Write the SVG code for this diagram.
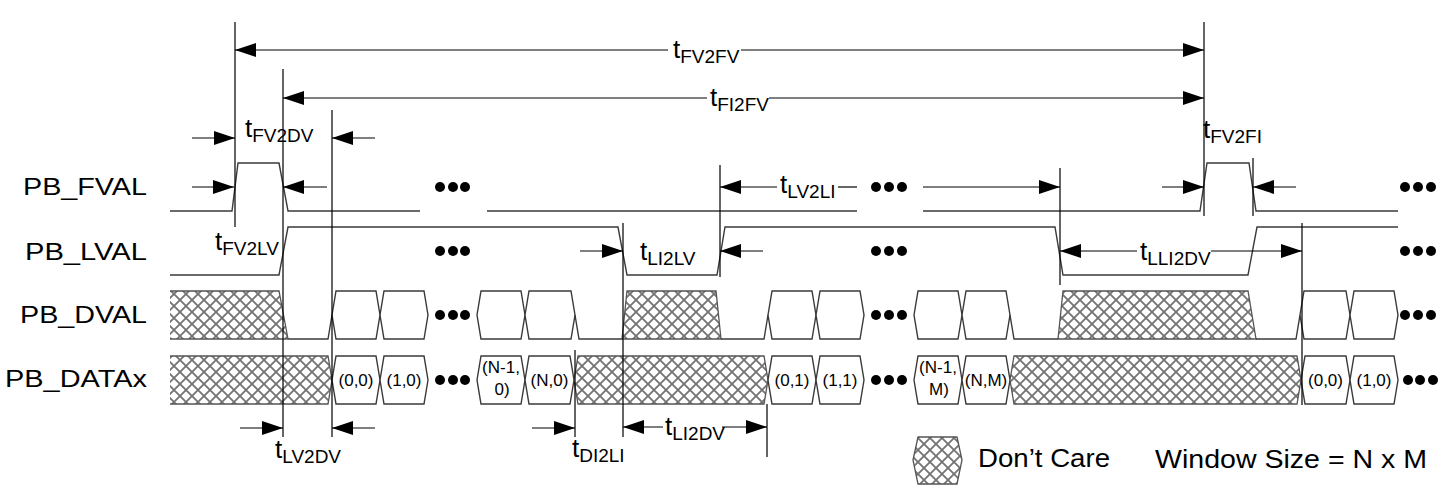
<svg xmlns="http://www.w3.org/2000/svg" width="1455" height="491" viewBox="0 0 1455 491">
<style>
text{font-family:"Liberation Sans",Arial,sans-serif;fill:#000}
.t{font-size:26px}
.s{font-size:19px}
.lbl{font-size:24px;text-anchor:end}
.d{font-size:17px;text-anchor:middle}
.leg{font-size:25px}
.w{fill:none;stroke:#3a3a3a;stroke-width:1.4;stroke-linejoin:miter}
.hx{fill:#fff;stroke:#3a3a3a;stroke-width:1.4}
.hf{fill:url(#hatch);stroke:none}
.hs{fill:none;stroke:#555;stroke-width:1.3}
.hb{fill:url(#hatch);stroke:#555;stroke-width:1.3}
.v{stroke:#000;stroke-width:1.2;fill:none}
.a{stroke:#000;stroke-width:1.2;fill:none;marker-end:url(#ah)}
.p{stroke:#000;stroke-width:1.2;fill:none}
.dot{fill:#000}
</style>
<defs>
<pattern id="hatch" patternUnits="userSpaceOnUse" width="12" height="12">
<rect width="12" height="12" fill="#fff"/>
<path d="M-1,-1 L13,13 M13,-1 L-1,13" stroke="#737373" stroke-width="1.8"/>
</pattern>
<marker id="ah" viewBox="0 0 21 14" refX="21" refY="7" markerWidth="21" markerHeight="14" orient="auto" markerUnits="userSpaceOnUse">
<path d="M0,0 L21,7 L0,14 Z" fill="#000"/>
</marker>
</defs>
<rect width="1455" height="491" fill="#fff"/>

<g id="pb-fval">
<text class="lbl" x="147" y="195" textLength="124" lengthAdjust="spacingAndGlyphs">PB_FVAL</text>
<path class="w" d="M170,211 L232,211 L238,163 L279,163 L288,211 L420,211"/>
<path class="w" d="M487,211 L857,211"/>
<path class="w" d="M923,211 L1200,211 L1207,163 L1249,163 L1256,211 L1398,211"/>
<circle class="dot" cx="440" cy="187" r="5"/><circle class="dot" cx="453" cy="187" r="5"/><circle class="dot" cx="465" cy="187" r="5"/>
<circle class="dot" cx="876" cy="187" r="5"/><circle class="dot" cx="889" cy="187" r="5"/><circle class="dot" cx="902" cy="187" r="5"/>
<circle class="dot" cx="1405" cy="187" r="5"/><circle class="dot" cx="1418" cy="187" r="5"/><circle class="dot" cx="1431" cy="187" r="5"/>
</g>

<g id="pb-lval">
<text class="lbl" x="147" y="260" textLength="122" lengthAdjust="spacingAndGlyphs">PB_LVAL</text>
<path class="w" d="M170,275 L279,275 L288,227 L618,227 L627,275 L717,275 L725,227 L1055,227 L1063,275 L1248,275 L1257,227 L1398,227"/>
<circle class="dot" cx="440" cy="251" r="5"/><circle class="dot" cx="453" cy="251" r="5"/><circle class="dot" cx="465" cy="251" r="5"/>
<circle class="dot" cx="876" cy="251" r="5"/><circle class="dot" cx="889" cy="251" r="5"/><circle class="dot" cx="902" cy="251" r="5"/>
<circle class="dot" cx="1405" cy="251" r="5"/><circle class="dot" cx="1418" cy="251" r="5"/><circle class="dot" cx="1431" cy="251" r="5"/>
</g>

<g id="pb-dval">
<text class="lbl" x="147" y="323" textLength="127" lengthAdjust="spacingAndGlyphs">PB_DVAL</text>
<path class="hf" d="M170,291 L279,291 L288,339 L170,339 Z"/>
<path class="hs" d="M170,291 L279,291 L288,339 M170,339 L288,339"/>
<path class="w" d="M288,339 L328,339 L332,315"/>
<path class="hx" d="M332,315 L336,291 L376,291 L380,315 L376,339 L336,339 Z"/>
<path class="hx" d="M380,315 L384,291 L424,291 L428,315 L424,339 L384,339 Z"/>
<path class="hx" d="M477,315 L481,291 L521,291 L525,315 L521,339 L481,339 Z"/>
<path class="hx" d="M525,315 L529,291 L571,291 L575,315 L571,339 L529,339 Z"/>
<path class="w" d="M575,315 L579,339 L622,339"/>
<path class="hb" d="M622,339 L627,291 L716,291 L721,339 Z"/>
<path class="w" d="M721,339 L764,339 L768,315"/>
<path class="hx" d="M768,315 L772,291 L812,291 L816,315 L812,339 L772,339 Z"/>
<path class="hx" d="M816,315 L820,291 L860,291 L864,315 L860,339 L820,339 Z"/>
<path class="hx" d="M914,315 L918,291 L958,291 L962,315 L958,339 L918,339 Z"/>
<path class="hx" d="M962,315 L966,291 L1006,291 L1010,315 L1006,339 L966,339 Z"/>
<path class="w" d="M1010,315 L1014,339 L1058,339"/>
<path class="hb" d="M1058,339 L1063,291 L1248,291 L1256,339 Z"/>
<path class="w" d="M1256,339 L1296,339 L1300,315"/>
<path class="hx" d="M1300,315 L1304,291 L1346,291 L1350,315 L1346,339 L1304,339 Z"/>
<path class="hx" d="M1350,315 L1354,291 L1394,291 L1398,315 L1394,339 L1354,339 Z"/>
<circle class="dot" cx="440" cy="315" r="5"/><circle class="dot" cx="453" cy="315" r="5"/><circle class="dot" cx="465" cy="315" r="5"/>
<circle class="dot" cx="876" cy="315" r="5"/><circle class="dot" cx="889" cy="315" r="5"/><circle class="dot" cx="902" cy="315" r="5"/>
<circle class="dot" cx="1405" cy="315" r="5"/><circle class="dot" cx="1418" cy="315" r="5"/><circle class="dot" cx="1431" cy="315" r="5"/>
</g>

<g id="pb-datax">
<text class="lbl" x="147" y="387" textLength="142" lengthAdjust="spacingAndGlyphs">PB_DATAx</text>
<path class="hf" d="M170,356 L328,356 L332,380 L328,404 L170,404 Z"/>
<path class="hs" d="M170,356 L328,356 L332,380 L328,404 L170,404"/>
<path class="hx" d="M332,380 L336,356 L376,356 L380,380 L376,404 L336,404 Z"/>
<text class="d" x="356" y="386">(0,0)</text>
<path class="hx" d="M380,380 L384,356 L424,356 L428,380 L424,404 L384,404 Z"/>
<text class="d" x="404" y="386">(1,0)</text>
<path class="hx" d="M477,380 L481,356 L521,356 L525,380 L521,404 L481,404 Z"/>
<text class="d" x="501" y="373">(N-1,</text>
<text class="d" x="502" y="395">0)</text>
<path class="hx" d="M525,380 L529,356 L570,356 L574,380 L570,404 L529,404 Z"/>
<text class="d" x="549.5" y="386">(N,0)</text>
<path class="hb" d="M574,380 L578,356 L764,356 L768,380 L764,404 L578,404 Z"/>
<path class="hx" d="M768,380 L772,356 L812,356 L816,380 L812,404 L772,404 Z"/>
<text class="d" x="792" y="386">(0,1)</text>
<path class="hx" d="M816,380 L820,356 L860,356 L864,380 L860,404 L820,404 Z"/>
<text class="d" x="840" y="386">(1,1)</text>
<path class="hx" d="M914,380 L918,356 L958,356 L962,380 L958,404 L918,404 Z"/>
<text class="d" x="938" y="373">(N-1,</text>
<text class="d" x="939" y="395">M)</text>
<path class="hx" d="M962,380 L966,356 L1006,356 L1010,380 L1006,404 L966,404 Z"/>
<text class="d" x="986" y="386">(N,M)</text>
<path class="hb" d="M1010,380 L1014,356 L1297,356 L1301,380 L1297,404 L1014,404 Z"/>
<path class="hx" d="M1301,380 L1305,356 L1346,356 L1350,380 L1346,404 L1305,404 Z"/>
<text class="d" x="1325.5" y="386">(0,0)</text>
<path class="hx" d="M1350,380 L1354,356 L1394,356 L1398,380 L1394,404 L1354,404 Z"/>
<text class="d" x="1374" y="386">(1,0)</text>
<circle class="dot" cx="440" cy="380" r="5"/><circle class="dot" cx="453" cy="380" r="5"/><circle class="dot" cx="465" cy="380" r="5"/>
<circle class="dot" cx="876" cy="380" r="5"/><circle class="dot" cx="889" cy="380" r="5"/><circle class="dot" cx="902" cy="380" r="5"/>
<circle class="dot" cx="1408" cy="380" r="5"/><circle class="dot" cx="1420" cy="380" r="5"/><circle class="dot" cx="1433" cy="380" r="5"/>
</g>

<g id="connectors">
<path class="v" d="M235,22 V227 M283,69 V437 M332,110 V437 M575,350 V437 M623,223 V437 M720,165 V277 M767,404 V457 M1060,168 V285 M1204,22 V216 M1253,158 V216 M1302,223 V405"/>
<path class="a" d="M668,50 H235"/>
<path class="a" d="M741,50 H1204"/>
<path class="a" d="M707,98 H283"/>
<path class="a" d="M769,98 H1204"/>
<path class="a" d="M192,138 H235"/>
<path class="a" d="M375,138 H332"/>
<path class="a" d="M192,187 H234"/>
<path class="a" d="M327,187 H283"/>
<path class="a" d="M240,428 H283"/>
<path class="a" d="M375,428 H332"/>
<path class="a" d="M580,251 H623"/>
<path class="a" d="M763,251 H720"/>
<path class="a" d="M777,187 H720"/>
<path class="p" d="M838,187 H857"/>
<path class="a" d="M923,187 H1060"/>
<path class="a" d="M1137,251 H1060"/>
<path class="a" d="M1211,251 H1302"/>
<path class="a" d="M1162,187 H1204"/>
<path class="a" d="M1296,187 H1253"/>
<path class="a" d="M532,428 H575"/>
<path class="a" d="M663,427 H623"/>
<path class="a" d="M722,427 H767"/>
</g>

<g id="timing-labels">
<text class="t" x="673" y="58">t<tspan class="s" dy="5">FV2FV</tspan></text>
<text class="t" x="710" y="106">t<tspan class="s" dy="5">FI2FV</tspan></text>
<text class="t" x="245" y="137">t<tspan class="s" dy="5">FV2DV</tspan></text>
<text class="t" x="215" y="250">t<tspan class="s" dy="5">FV2LV</tspan></text>
<text class="t" x="275" y="458">t<tspan class="s" dy="5">LV2DV</tspan></text>
<text class="t" x="640" y="260">t<tspan class="s" dy="5">LI2LV</tspan></text>
<text class="t" x="780" y="193">t<tspan class="s" dy="5">LV2LI</tspan></text>
<text class="t" x="1140" y="260">t<tspan class="s" dy="5">LLI2DV</tspan></text>
<text class="t" x="1203" y="138">t<tspan class="s" dy="5">FV2FI</tspan></text>
<text class="t" x="572" y="457">t<tspan class="s" dy="5">DI2LI</tspan></text>
<text class="t" x="665" y="435">t<tspan class="s" dy="5">LI2DV</tspan></text>
</g>

<g id="legend">
<path class="hb" d="M913,460 L918,437 L957,437 L962,460 L957,484 L918,484 Z"/>
<text class="leg" x="978" y="467" textLength="132" lengthAdjust="spacingAndGlyphs">Don’t Care</text>
<text class="leg" x="1155" y="468" textLength="272" lengthAdjust="spacingAndGlyphs">Window Size = N x M</text>
</g>
</svg>
